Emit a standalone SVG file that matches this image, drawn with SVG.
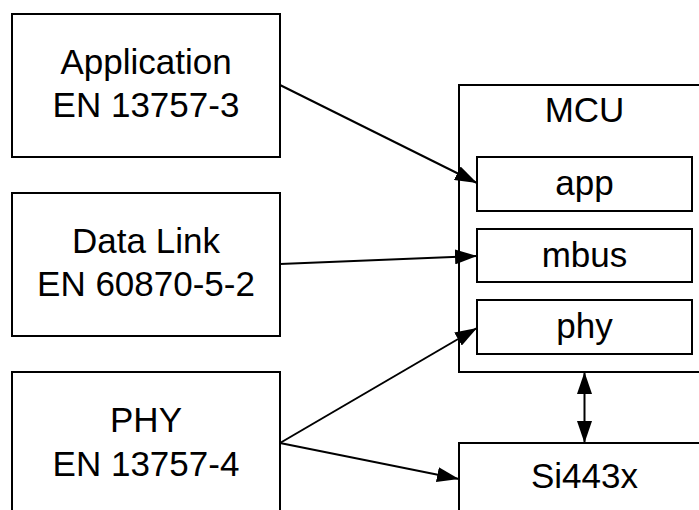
<svg xmlns="http://www.w3.org/2000/svg" width="699" height="510" viewBox="0 0 699 510">
<defs>
<style>
rect{fill:#fff;stroke:#000;stroke-width:2}
text{font-family:"Liberation Sans",Arial,Helvetica,sans-serif;font-size:35px;fill:#000;text-anchor:middle}
.c line{stroke:#000;stroke-width:2;fill:none}
</style>
<marker id="ah" viewBox="0 0 22 15" refX="22" refY="7.5" markerWidth="22" markerHeight="15" markerUnits="userSpaceOnUse" orient="auto-start-reverse">
<path d="M0,0 L22,7.5 L0,15 z" fill="#000"/>
</marker>
</defs>
<g id="application">
<rect x="12" y="14" width="268" height="143"/>
<text x="146" y="74">Application</text>
<text x="146" y="117">EN 13757-3</text>
</g>
<g id="datalink">
<rect x="12" y="193" width="268" height="143"/>
<text x="146" y="253">Data Link</text>
<text x="146" y="296">EN 60870-5-2</text>
</g>
<g id="phy-layer">
<rect x="12" y="372" width="268" height="143"/>
<text x="146" y="432">PHY</text>
<text x="146" y="476">EN 13757-4</text>
</g>
<g id="mcu">
<rect x="459" y="85" width="252" height="287"/>
<text x="584.5" y="122">MCU</text>
</g>
<g id="app">
<rect x="477" y="157" width="215" height="54"/>
<text x="584.5" y="195">app</text>
</g>
<g id="mbus">
<rect x="477" y="229" width="215" height="53"/>
<text x="584.5" y="267">mbus</text>
</g>
<g id="phy">
<rect x="477" y="300" width="215" height="54"/>
<text x="584.5" y="338">phy</text>
</g>
<g id="si443x">
<rect x="459" y="443" width="252" height="80"/>
<text x="584.5" y="488">Si443x</text>
</g>
<g class="c" id="connectors">
<line x1="280" y1="85" x2="477" y2="183" marker-end="url(#ah)"/>
<line x1="280" y1="264" x2="477" y2="256" marker-end="url(#ah)"/>
<line x1="280" y1="443" x2="477" y2="328" marker-end="url(#ah)"/>
<line x1="280" y1="443" x2="459" y2="479" marker-end="url(#ah)"/>
<line x1="584.5" y1="372" x2="584.5" y2="443" marker-start="url(#ah)" marker-end="url(#ah)"/>
</g>
</svg>
